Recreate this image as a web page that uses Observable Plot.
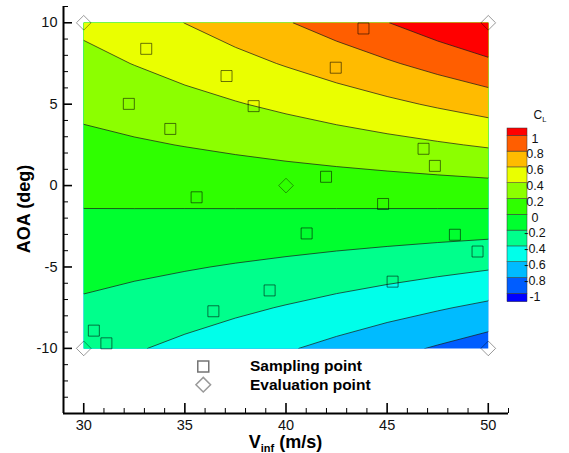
<!DOCTYPE html>
<html><head><meta charset="utf-8">
<script src="https://cdn.jsdelivr.net/npm/d3@7"></script>
<script src="https://cdn.jsdelivr.net/npm/@observablehq/plot@0.6"></script>
<style>body{margin:0;background:#fff}</style>
</head><body><div id="chart"></div>
<script>
// CL field (rows: AOA, columns: V)
const vGrid = [30, 32.5, 35, 37.5, 40, 42.5, 45, 47.5, 50];
const aoaGrid = [-10, -7.5, -5, -2.5, 0, 2.5, 5, 7.5, 10];
const clRowM10  = [-0.327, -0.384, -0.445, -0.511, -0.581, -0.656, -0.736, -0.820, -0.908];
const clRowM7_5 = [-0.232, -0.272, -0.316, -0.362, -0.412, -0.466, -0.522, -0.581, -0.644];
const clRowM5   = [-0.137, -0.161, -0.186, -0.214, -0.243, -0.275, -0.308, -0.343, -0.380];
const clRowM2_5 = [-0.042, -0.049, -0.057, -0.065, -0.074, -0.084, -0.094, -0.105, -0.116];
const clRow0    = [0.054, 0.064, 0.074, 0.085, 0.097, 0.109, 0.122, 0.136, 0.151];
const clRow2_5  = [0.151, 0.178, 0.206, 0.236, 0.269, 0.304, 0.340, 0.379, 0.420];
const clRow5    = [0.248, 0.291, 0.338, 0.388, 0.441, 0.498, 0.559, 0.623, 0.690];
const clRow7_5  = [0.345, 0.405, 0.470, 0.540, 0.614, 0.693, 0.777, 0.866, 0.959];
const clRow10   = [0.442, 0.519, 0.602, 0.691, 0.786, 0.888, 0.995, 1.109, 1.229];
const clRows = [clRowM10, clRowM7_5, clRowM5, clRowM2_5, clRow0, clRow2_5, clRow5, clRow7_5, clRow10];

const levels = [-1, -0.8, -0.6, -0.4, -0.2, 0, 0.2, 0.4, 0.6, 0.8, 1];
const levelLabels = ["-1", "-0.8", "-0.6", "-0.4", "-0.2", "0", "0.2", "0.4", "0.6", "0.8", "1"];
const bandColors = ["#0000FF", "#005DFF", "#00BBFF", "#00FFEA", "#00FF8C", "#00FF2F",
                    "#2FFF00", "#8CFF00", "#EAFF00", "#FFBB00", "#FF5E00", "#FF0000"];

// Sampling points
const sampleV   = [33.09, 32.23, 34.28, 35.58, 37.06, 38.40, 43.83, 42.46, 46.80, 47.36,
                   41.98, 44.80, 41.02, 39.19, 45.27, 48.35, 49.47, 36.41, 30.50, 31.12];
const sampleAOA = [8.40, 5.02, 3.48, -0.72, 6.73, 4.88, 9.65, 7.24, 2.26, 1.21,
                   0.54, -1.13, -2.94, -6.44, -5.90, -3.02, -4.05, -7.72, -8.91, -9.69];
// Evaluation points
const evalV   = [30, 50, 30, 50, 40];
const evalAOA = [10, 10, -10, -10, 0];

const xTickVals = [30, 35, 40, 45, 50];
const yTickVals = [-10, -5, 0, 5, 10];

// tables built from the arrays
const field = clRows.flat();
const samplePts = sampleV.map((v, i) => ({v, a: sampleAOA[i]}));
const evalPts = evalV.map((v, i) => ({v, a: evalAOA[i]}));
const xMinor = d3.range(29, 52).filter(d => d % 5 !== 0);
const yMinor = d3.range(-13, 12).filter(d => d % 5 !== 0);

const W = 569, H = 453, mL = 63, mR = 61, mT = 6, mB = 40;
const plotW = W - mL - mR, plotH = H - mT - mB;
const font = "'Liberation Sans', Arial, Helvetica, sans-serif";

// grid samples sit at cell centres: extend bounds by half a cell, then clip to the field
const dv = vGrid[1] - vGrid[0], da = aoaGrid[1] - aoaGrid[0];
const contourOpts = {
  width: vGrid.length, height: aoaGrid.length, thresholds: levels,
  x1: vGrid[0] - dv / 2, x2: vGrid[vGrid.length - 1] + dv / 2,
  y1: aoaGrid[0] - da / 2, y2: aoaGrid[aoaGrid.length - 1] + da / 2
};

const plot = Plot.plot({
  width: W, height: H,
  marginLeft: mL, marginRight: mR, marginTop: mT, marginBottom: mB,
  x: {domain: [29, 51]},
  y: {domain: [-14, 11]},
  color: {type: "threshold", domain: levels, range: bandColors},
  style: {fontFamily: font, fontSize: "14.5px", color: "#111", background: "white"},
  marks: [
    Plot.contour(field, {...contourOpts, fill: Plot.identity, stroke: "none"}),
    Plot.contour(field, {...contourOpts, value: Plot.identity, fill: "none", stroke: "#1a1a1a", strokeWidth: 0.8, strokeOpacity: 0.9}),
    Plot.dot(samplePts, {x: "v", y: "a", symbol: "square", r: 6.2, fill: "none", stroke: "#000", strokeOpacity: 0.55, strokeWidth: 1}),
    Plot.dot(evalPts, {x: "v", y: "a", symbol: "diamond2", r: 6.6, fill: "none", stroke: "#000", strokeOpacity: 0.4, strokeWidth: 1}),
    // legend
    Plot.dot([0], {x: 35.91, y: -11.11, symbol: "square", r: 6.2, fill: "none", stroke: "#000", strokeOpacity: 0.55}),
    Plot.dot([0], {x: 35.91, y: -12.23, symbol: "diamond2", r: 6.6, fill: "none", stroke: "#000", strokeOpacity: 0.4}),
    Plot.text(["Sampling point"], {x: 38.22, y: -11.11, text: d => d, textAnchor: "start", fontWeight: "bold", fontSize: 15.5, fill: "#000"}),
    Plot.text(["Evaluation point"], {x: 38.22, y: -12.28, text: d => d, textAnchor: "start", fontWeight: "bold", fontSize: 15.5, fill: "#000"}),
    // axes
    Plot.axisX(xTickVals, {tickSize: 0, tickPadding: 6, label: null, tickFormat: d => String(d), fill: "#111"}),
    Plot.axisY(yTickVals, {tickSize: 0, tickPadding: 6, label: null, tickFormat: d => String(d), fill: "#111"}),
    Plot.tickX(xTickVals, {insetTop: plotH - 10, stroke: "#000", strokeWidth: 1.6}),
    Plot.tickX(xMinor, {insetTop: plotH - 5, stroke: "#000", strokeWidth: 1}),
    Plot.tickY(yTickVals, {insetRight: plotW - 9, stroke: "#000", strokeWidth: 1.6}),
    Plot.tickY(yMinor, {insetRight: plotW - 5, stroke: "#000", strokeWidth: 1}),
    Plot.ruleX([29], {stroke: "#000", strokeWidth: 2}),
    Plot.ruleY([-14], {stroke: "#000", strokeWidth: 2})
  ]
});

const svg = d3.select(plot);
const xs = plot.scale("x"), ys = plot.scale("y");

// clip the contour field to the sampled rectangle
const groups = plot.querySelectorAll('g[aria-label="contour"]');
const defs = svg.append("defs");
const fx0 = xs.apply(vGrid[0]), fx1 = xs.apply(vGrid[vGrid.length - 1]);
const fy0 = ys.apply(aoaGrid[aoaGrid.length - 1]), fy1 = ys.apply(aoaGrid[0]);
defs.append("clipPath").attr("id", "fieldclip").append("rect")
  .attr("x", fx0).attr("y", fy0).attr("width", fx1 - fx0).attr("height", fy1 - fy0);
groups.forEach(g => g.setAttribute("clip-path", "url(#fieldclip)"));

// axis titles
svg.append("text")
  .attr("transform", "translate(30,209) rotate(-90)")
  .attr("text-anchor", "middle")
  .style("font-family", font).style("font-weight", "bold").style("font-size", "18px")
  .attr("fill", "#000").text("AOA (deg)");
const xt = svg.append("text")
  .attr("x", 285.5).attr("y", 448).attr("text-anchor", "middle")
  .style("font-family", font).style("font-weight", "bold").style("font-size", "18px")
  .attr("fill", "#000");
xt.append("tspan").text("V");
xt.append("tspan").attr("dy", 4).style("font-size", "11px").text("inf");
xt.append("tspan").attr("dy", -4).text(" (m/s)");

// colour bar
const cbX = 507, cbW = 20, cbTop = 128, lvlTop = 135.3, step = 15.8, cbBottom = 301.7;
const levelY = k => lvlTop + (levels.length - 1 - k) * step;
const cb = svg.append("g");
bandColors.forEach((c, i) => {
  const yTop = i === bandColors.length - 1 ? cbTop : levelY(i);
  const yBot = i === 0 ? cbBottom : levelY(i - 1);
  cb.append("rect").attr("x", cbX).attr("y", yTop).attr("width", cbW).attr("height", yBot - yTop)
    .attr("fill", c).attr("stroke", "#333").attr("stroke-width", 0.5);
});
levels.forEach((l, k) => {
  cb.append("text").attr("x", 535).attr("y", levelY(k) + 3).attr("dy", "0.35em")
    .style("font-family", font).style("font-size", "12.5px").attr("fill", "#111")
    .text(levelLabels[k]);
});
const ct = cb.append("text").attr("x", 540).attr("y", 119)
  .style("font-family", font).style("font-size", "12px").attr("fill", "#111");
ct.append("tspan").text("C");
ct.append("tspan").attr("dy", 3).style("font-size", "7.5px").text("L");

document.getElementById("chart").appendChild(plot);
</script>
</body></html>
